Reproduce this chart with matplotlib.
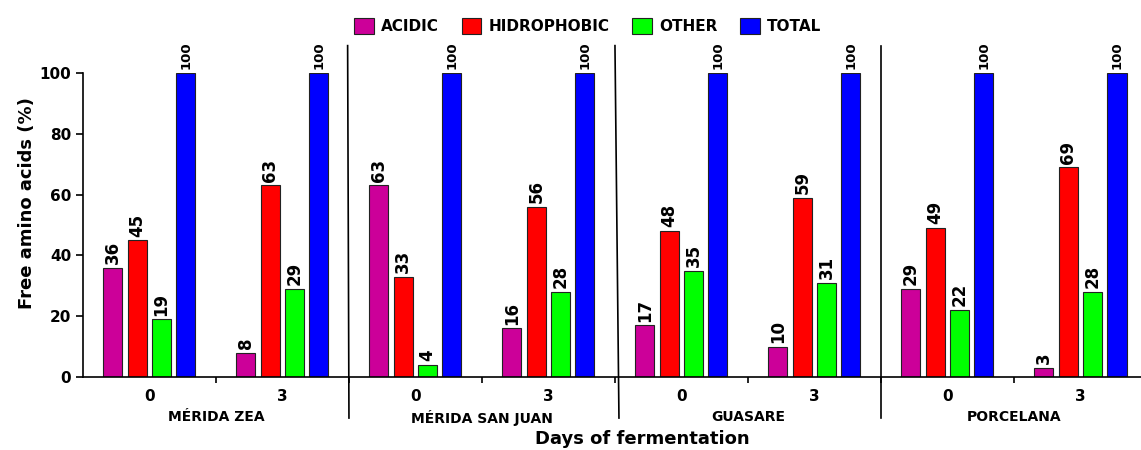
import numpy as np
import matplotlib.pyplot as plt
from matplotlib.lines import Line2D

# data
varieties = ["MÉRIDA ZEA", "MÉRIDA SAN JUAN", "GUASARE", "PORCELANA"]
days = ["0", "3"]
series = ["ACIDIC", "HIDROPHOBIC", "OTHER", "TOTAL"]
acidic = [36, 8, 63, 16, 17, 10, 29, 3]
hidrophobic = [45, 63, 33, 56, 48, 59, 49, 69]
other = [19, 29, 4, 28, 35, 31, 22, 28]
total = [100, 100, 100, 100, 100, 100, 100, 100]
colors = ["#CC0099", "#FF0000", "#00FF00", "#0000FF"]

values = [acidic, hidrophobic, other, total]

fig = plt.figure(figsize=(11.41, 4.5), dpi=100)
ax = fig.add_axes([0.0727, 0.1622, 0.9273, 0.6756])

n_groups = len(varieties) * len(days)
x = np.arange(n_groups) + 0.5
pitch = 0.183
width = 0.143

for i, (name, vals, col) in enumerate(zip(series, values, colors)):
    pos = x + (i - 1.5) * pitch
    ax.bar(pos, vals, width, color=col, edgecolor="#222222", linewidth=0.8, label=name)
    fs = 9.5 if name == "TOTAL" else 12
    for px, v in zip(pos, vals):
        ax.text(px, v + 1.2, str(v), rotation=90, ha="center", va="bottom",
                fontsize=fs, fontweight="bold")

ax.set_xlim(0, 7.955)
ax.set_ylim(0, 100)
ax.set_yticks(np.arange(0, 101, 20))
ax.tick_params(axis="y", labelsize=11, width=1.2, length=5)
for lab in ax.get_yticklabels():
    lab.set_fontweight("bold")
ax.set_xticks(np.arange(1, n_groups))
ax.set_xticklabels([])
ax.tick_params(axis="x", length=4, width=1.2)
ax.spines["top"].set_visible(False)
ax.spines["right"].set_visible(False)
ax.spines["left"].set_linewidth(1.2)
ax.spines["bottom"].set_linewidth(1.2)
ax.set_ylabel("Free amino acids (%)", fontsize=13, fontweight="bold")
ax.yaxis.set_label_coords(-0.044, 0.572)

# day labels and variety names
trans = ax.get_xaxis_transform()
for k in range(n_groups):
    ax.text(x[k], -0.04, days[k % 2], transform=trans, ha="center", va="top",
            fontsize=11, fontweight="bold")
for j, v in enumerate(varieties):
    ax.text(2 * j + 1, -0.11, v, transform=trans, ha="center", va="top",
            fontsize=10, fontweight="bold")

# separators between varieties
seps = [(2, 1.99), (4.03, 4.0), (6, 6.0)]
for xb, xt in seps:
    ax.add_line(Line2D([xb, xt], [-0.135, 1.09], transform=trans, color="black",
                       linewidth=1.2, clip_on=False))

fig.text(0.563, 0.005, "Days of fermentation", ha="center", va="bottom",
         fontsize=13, fontweight="bold")

leg = fig.legend(loc="center", bbox_to_anchor=(0.515, 0.942), ncol=4,
                 frameon=False, handlelength=1.3, handleheight=1.3,
                 columnspacing=1.5, handletextpad=0.45,
                 prop={"weight": "bold", "size": 11})

fig.savefig("out.png", dpi=100)
